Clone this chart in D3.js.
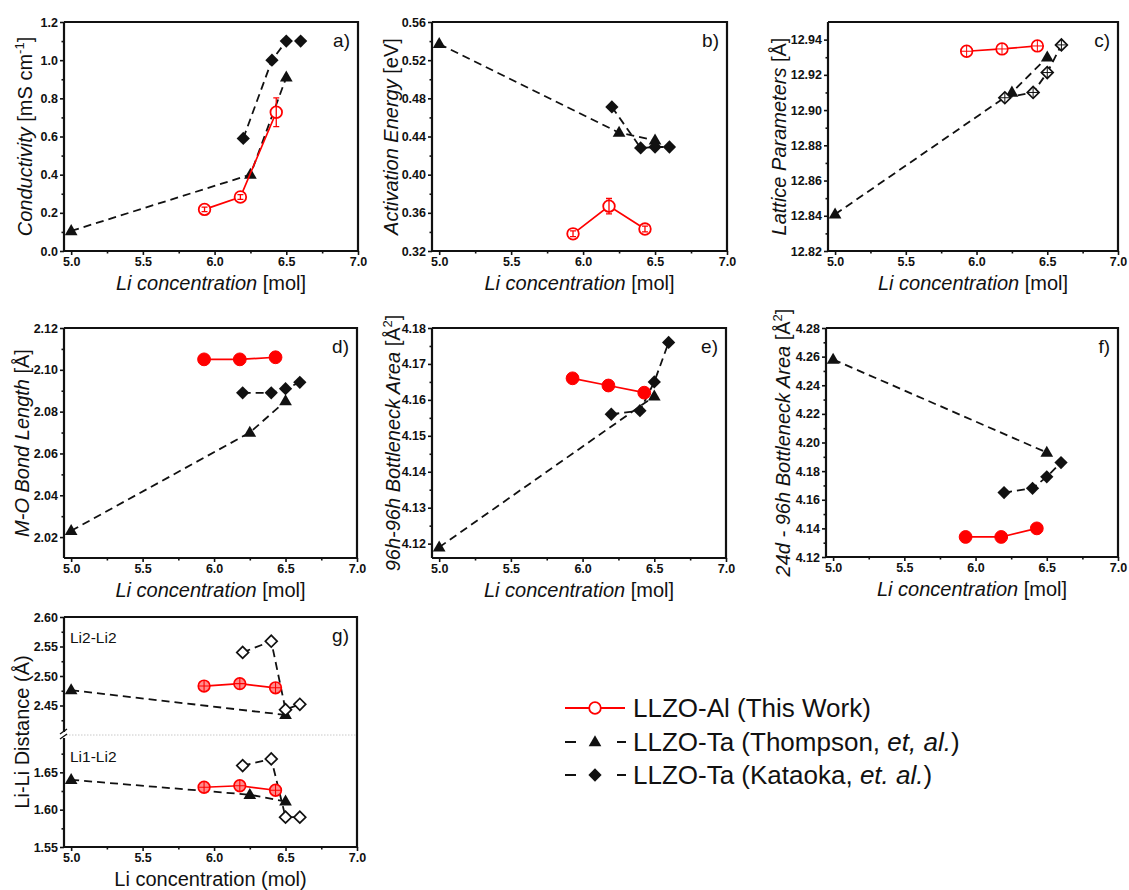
<!DOCTYPE html>
<html>
<head>
<meta charset="utf-8">
<script src="https://cdn.jsdelivr.net/npm/d3@7"></script>
<style>
  html, body { margin: 0; padding: 0; background: #fff; }
  svg { display: block; font-family: "Liberation Sans", Arial, sans-serif; }
</style>
</head>
<body>
<script>
// ---- Li content (mol per formula unit) for each sample set ----
const liAl = [5.93, 6.18, 6.43];            // LLZO-Al (this work)
const liThompson = [5.0, 6.25, 6.5];        // LLZO-Ta, Thompson et al.
const liThompsonEnds = [5.0, 6.5];          // Thompson points reported in e), f), g-upper
const liKataoka = [6.2, 6.4, 6.5, 6.6];     // LLZO-Ta, Kataoka et al.

// a) conductivity [mS cm-1]
const condAl = [0.218, 0.283, 0.727];
const condAlErr = [0.012, 0.012, 0.075];
const condThompson = [0.105, 0.40, 0.91];
const condKataoka = [0.59, 1.0, 1.1, 1.1];

// b) activation energy [eV]
const eaAl = [0.338, 0.367, 0.343];
const eaAlErr = [0.003, 0.008, 0.003];
const eaThompson = [0.537, 0.444, 0.436];
const eaKataoka = [0.471, 0.428, 0.429, 0.429];

// c) lattice parameter [Å]
const latAl = [12.9334, 12.9347, 12.9364];
const latThompson = [12.8408, 12.910, 12.930];
const latKataoka = [12.907, 12.910, 12.9213, 12.937];

// d) M-O bond length [Å]
const moAl = [2.105, 2.105, 2.106];
const moThompson = [2.023, 2.070, 2.085];
const moKataoka = [2.089, 2.089, 2.091, 2.094];

// e) 96h-96h bottleneck area [Å²]
const bn96Al = [4.166, 4.164, 4.162];
const bn96Thompson = [4.119, 4.161];
const bn96Kataoka = [4.156, 4.157, 4.165, 4.176];

// f) 24d-96h bottleneck area [Å²]
const bn24Al = [4.134, 4.134, 4.140];
const bn24Thompson = [4.258, 4.193];
const bn24Kataoka = [4.165, 4.168, 4.176, 4.186];

// g) Li-Li distances [Å]
const li22Al = [2.483, 2.487, 2.480];
const li22Thompson = [2.476, 2.434];
const li22Kataoka = [2.540, 2.559, 2.443, 2.452];
const li12Al = [1.630, 1.632, 1.626];
const li12Thompson = [1.640, 1.620, 1.611];
const li12Kataoka = [1.659, 1.668, 1.590, 1.590];

// axis ticks
const xTicks = [5.0, 5.5, 6.0, 6.5, 7.0];
const xMinor = [5.25, 5.75, 6.25, 6.75];

const legendLabels = [
  [{t: "LLZO-Al (This Work)"}],
  [{t: "LLZO-Ta (Thompson, "}, {t: "et, al.", i: true}, {t: ")"}],
  [{t: "LLZO-Ta (Kataoka, "}, {t: "et. al.", i: true}, {t: ")"}]
];

const RED = "#ff0000";
const INK = "#111";
const W = 1129, H = 890;

const svg = d3.select("body").append("svg").attr("width", W).attr("height", H);
svg.append("rect").attr("width", W).attr("height", H).attr("fill", "#fff");

const triSym = d3.symbol().type(d3.symbolTriangle).size(70);
const sqSym = d3.symbol().type(d3.symbolSquare).size(88);
const sqOpenSym = d3.symbol().type(d3.symbolSquare).size(70);

function marker(sel, kind, cx, cy) {
  const g = sel.append("g").attr("transform", `translate(${cx},${cy})`);
  const r = 5.8;
  switch (kind) {
    case "circleOpen":
      g.append("circle").attr("r", r).attr("fill", "#fff").attr("stroke", RED).attr("stroke-width", 1.8);
      break;
    case "circleOpenCross":
      g.append("circle").attr("r", r).attr("fill", "#fff").attr("stroke", RED).attr("stroke-width", 1.7);
      g.append("path").attr("d", `M${-r},0H${r}M0,${-r}V${r}`).attr("stroke", RED).attr("stroke-width", 1);
      break;
    case "circleFill":
      g.append("circle").attr("r", r + 0.6).attr("fill", RED).attr("stroke", RED).attr("stroke-width", 1);
      break;
    case "circleCrossFill":
      g.append("circle").attr("r", r).attr("fill", "#ff8c8c").attr("stroke", RED).attr("stroke-width", 1.7);
      g.append("path").attr("d", `M${-r},0H${r}M0,${-r}V${r}`).attr("stroke", RED).attr("stroke-width", 1.1);
      break;
    case "triangle":
      g.append("path").attr("d", triSym()).attr("transform", "translate(0,0.5)").attr("fill", INK);
      break;
    case "diamondFill":
      g.append("path").attr("d", sqSym()).attr("transform", "rotate(45)").attr("fill", INK);
      break;
    case "diamondOpen":
      g.append("path").attr("d", sqOpenSym()).attr("transform", "rotate(45)")
        .attr("fill", "#fff").attr("stroke", INK).attr("stroke-width", 1.7);
      break;
    case "diamondOpenCross":
      g.append("path").attr("d", sqOpenSym()).attr("transform", "rotate(45)")
        .attr("fill", "#fff").attr("stroke", INK).attr("stroke-width", 1.7);
      g.append("path").attr("d", "M-5.8,0H5.8M0,-5.8V5.8").attr("stroke", INK).attr("stroke-width", 1);
      break;
  }
}

function richText(sel, parts, size) {
  parts.forEach(p => {
    const ts = sel.append("tspan").text(p.t);
    if (p.i) ts.attr("font-style", "italic");
    if (p.sup) {
      ts.attr("font-size", size * 0.65).attr("dy", -size * 0.4);
    } else if (p.afterSup) {
      ts.attr("dy", size * 0.4);
    }
  });
}

function styleAxis(g, fmtShown) {
  g.select(".domain").remove();
  g.selectAll(".tick line").attr("stroke", INK).attr("stroke-width", 1.6);
  g.selectAll(".tick text").attr("fill", INK).attr("font-size", 12.5).attr("font-weight", "bold")
    .attr("font-family", "'Liberation Sans', Arial, sans-serif");
  if (!fmtShown) g.selectAll(".tick text").remove();
}

function drawPanel(cfg) {
  const {l, r, t, b} = cfg.box;
  const g = svg.append("g");
  const x = d3.scaleLinear().domain([4.95, 7.0]).range([l, r]);

  // x axis
  g.append("g").attr("transform", `translate(0,${b})`)
    .call(d3.axisBottom(x).tickValues(xTicks).tickSize(4).tickPadding(2).tickFormat(d3.format(".1f")))
    .call(s => styleAxis(s, true));
  g.append("g").attr("transform", `translate(0,${b})`)
    .call(d3.axisBottom(x).tickValues(xMinor).tickSize(2.5).tickFormat(""))
    .call(s => styleAxis(s, false));

  // y axes (one or more stacked segments)
  cfg.segments.forEach(seg => {
    const y = d3.scaleLinear().domain(seg.domain).range(seg.range);
    seg.y = y;
    g.append("g").attr("transform", `translate(${l},0)`)
      .call(d3.axisLeft(y).tickValues(seg.ticks).tickSize(4).tickPadding(2).tickFormat(d3.format(seg.fmt)))
      .call(s => styleAxis(s, true));
    g.append("g").attr("transform", `translate(${l},0)`)
      .call(d3.axisLeft(y).tickValues(seg.minor).tickSize(2.5).tickFormat(""))
      .call(s => styleAxis(s, false));
  });

  // frame
  const frame = g.append("g").attr("fill", "none").attr("stroke", INK).attr("stroke-width", 2.2);
  frame.append("path").attr("d", `M${l},${b}H${r}V${t}H${l}`);
  if (cfg.breakY) {
    const by = cfg.breakY;
    frame.append("path").attr("d", `M${l},${t}V${by - 3}M${l},${by + 3}V${b}`);
    g.append("line").attr("x1", l + 2).attr("x2", r - 1).attr("y1", by).attr("y2", by)
      .attr("stroke", "#c8c8c8").attr("stroke-width", 1).attr("stroke-dasharray", "1.5,1.5");
    g.append("path").attr("d", `M${l - 4},${by - 1}L${l + 3},${by - 6}M${l - 4},${by + 4}L${l + 3},${by - 1}`)
      .attr("stroke", INK).attr("stroke-width", 1.4).attr("fill", "none");
  } else {
    frame.append("path").attr("d", `M${l},${t}V${b}`);
  }

  // series
  cfg.series.forEach(s => {
    const y = cfg.segments[s.seg || 0].y;
    const pts = s.x.map((xv, i) => [x(xv), y(s.y[i])]);
    const line = d3.line();
    g.append("path").attr("d", line(pts)).attr("fill", "none")
      .attr("stroke", s.color).attr("stroke-width", s.dash ? 1.8 : 1.7)
      .attr("stroke-dasharray", s.dash ? "8,5" : null);
    pts.forEach(p => marker(g, s.marker, p[0], p[1]));
    if (s.err) {
      s.x.forEach((xv, i) => {
        const cx = x(xv), y1 = y(s.y[i] - s.err[i]), y2 = y(s.y[i] + s.err[i]);
        g.append("path").attr("d", `M${cx},${y1}V${y2}M${cx - 3},${y1}H${cx + 3}M${cx - 3},${y2}H${cx + 3}`)
          .attr("stroke", s.color).attr("stroke-width", 1.3).attr("fill", "none");
      });
    }
  });

  // panel tag
  g.append("text").attr("x", r - 8).attr("y", t + 25).attr("text-anchor", "end")
    .attr("font-size", 19).attr("fill", INK).text(cfg.tag);

  // axis titles
  const xt = g.append("text").attr("x", (l + r) / 2).attr("y", b + 39).attr("text-anchor", "middle")
    .attr("font-size", 20).attr("fill", INK);
  richText(xt, cfg.xTitle, 20);
  const cy = (t + b) / 2;
  const yt = g.append("text").attr("transform", `translate(${cfg.yTitleX},${cy}) rotate(-90)`)
    .attr("text-anchor", "middle").attr("dy", "0.35em").attr("font-size", 20).attr("fill", INK);
  richText(yt, cfg.yTitle, 20);

  return {g, x};
}

const xTitleStd = [{t: "Li concentration", i: true}, {t: " [mol]"}];

function trio(alY, alMarker, thY, kaY, kaMarker, opts = {}) {
  return [
    {x: opts.thX || liThompson, y: thY, color: INK, dash: true, marker: "triangle", seg: opts.seg},
    {x: liKataoka, y: kaY, color: INK, dash: true, marker: kaMarker, seg: opts.seg},
    {x: liAl, y: alY, color: RED, marker: alMarker, err: opts.err, seg: opts.seg}
  ];
}

// a) conductivity
drawPanel({
  box: {l: 64, r: 358, t: 22, b: 251}, tag: "a)", yTitleX: 25,
  xTitle: xTitleStd,
  yTitle: [{t: "Conductivity", i: true}, {t: " [mS cm"}, {t: "-1", sup: true}, {t: "]", afterSup: true}],
  segments: [{domain: [0, 1.2], range: [251, 22], ticks: d3.range(0, 1.21, 0.2), minor: d3.range(0.1, 1.2, 0.2), fmt: ".1f"}],
  series: trio(condAl, "circleOpen", condThompson, condKataoka, "diamondFill", {err: condAlErr})
});

// b) activation energy
drawPanel({
  box: {l: 432, r: 727, t: 22, b: 251}, tag: "b)", yTitleX: 391,
  xTitle: xTitleStd,
  yTitle: [{t: "Activation Energy", i: true}, {t: " [eV]"}],
  segments: [{domain: [0.32, 0.56], range: [251, 22], ticks: [0.32, 0.36, 0.40, 0.44, 0.48, 0.52, 0.56],
    minor: [0.34, 0.38, 0.42, 0.46, 0.50, 0.54], fmt: ".2f"}],
  series: trio(eaAl, "circleOpen", eaThompson, eaKataoka, "diamondFill", {err: eaAlErr})
});

// c) lattice parameter
drawPanel({
  box: {l: 828, r: 1118, t: 22, b: 251}, tag: "c)", yTitleX: 779,
  xTitle: xTitleStd,
  yTitle: [{t: "Lattice Parameters", i: true}, {t: " [Å]"}],
  segments: [{domain: [12.82, 12.95], range: [251, 22], ticks: [12.82, 12.84, 12.86, 12.88, 12.90, 12.92, 12.94],
    minor: [12.83, 12.85, 12.87, 12.89, 12.91, 12.93], fmt: ".2f"}],
  series: trio(latAl, "circleOpenCross", latThompson, latKataoka, "diamondOpenCross")
});

// d) M-O bond length
drawPanel({
  box: {l: 64, r: 357, t: 328, b: 558}, tag: "d)", yTitleX: 22,
  xTitle: xTitleStd,
  yTitle: [{t: "M-O Bond Length", i: true}, {t: " [Å]"}],
  segments: [{domain: [2.01, 2.12], range: [558, 328], ticks: [2.02, 2.04, 2.06, 2.08, 2.10, 2.12],
    minor: [2.03, 2.05, 2.07, 2.09, 2.11], fmt: ".2f"}],
  series: trio(moAl, "circleFill", moThompson, moKataoka, "diamondFill")
});

// e) 96h-96h bottleneck
drawPanel({
  box: {l: 432, r: 726, t: 328, b: 558}, tag: "e)", yTitleX: 393,
  xTitle: xTitleStd,
  yTitle: [{t: "96h-96h Bottleneck Area", i: true}, {t: " [Å"}, {t: "2", sup: true}, {t: "]", afterSup: true}],
  segments: [{domain: [4.116, 4.18], range: [558, 328], ticks: [4.12, 4.13, 4.14, 4.15, 4.16, 4.17, 4.18],
    minor: [4.125, 4.135, 4.145, 4.155, 4.165, 4.175], fmt: ".2f"}],
  series: trio(bn96Al, "circleFill", bn96Thompson, bn96Kataoka, "diamondFill", {thX: liThompsonEnds})
});

// f) 24d-96h bottleneck
drawPanel({
  box: {l: 826, r: 1118, t: 328, b: 557}, tag: "f)", yTitleX: 783,
  xTitle: xTitleStd,
  yTitle: [{t: "24d - 96h Bottleneck Area", i: true}, {t: " [Å"}, {t: "2", sup: true}, {t: "]", afterSup: true}],
  segments: [{domain: [4.12, 4.28], range: [557, 328], ticks: [4.12, 4.14, 4.16, 4.18, 4.20, 4.22, 4.24, 4.26, 4.28],
    minor: [4.13, 4.15, 4.17, 4.19, 4.21, 4.23, 4.25, 4.27], fmt: ".2f"}],
  series: trio(bn24Al, "circleFill", bn24Thompson, bn24Kataoka, "diamondFill", {thX: liThompsonEnds})
});

// g) Li-Li distances, broken y axis
const pg = drawPanel({
  box: {l: 64, r: 357, t: 617, b: 847}, tag: "g)", yTitleX: 22, breakY: 735,
  xTitle: [{t: "Li concentration (mol)"}],
  yTitle: [{t: "Li-Li Distance (Å)"}],
  segments: [
    {domain: [2.40, 2.60], range: [735, 617], ticks: [2.45, 2.50, 2.55, 2.60], minor: [2.425, 2.475, 2.525, 2.575], fmt: ".2f"},
    {domain: [1.55, 1.70], range: [847, 735], ticks: [1.55, 1.60, 1.65], minor: [1.575, 1.625, 1.675], fmt: ".2f"}
  ],
  series: [
    ...trio(li22Al, "circleCrossFill", li22Thompson, li22Kataoka, "diamondOpen", {thX: liThompsonEnds, seg: 0}),
    ...trio(li12Al, "circleCrossFill", li12Thompson, li12Kataoka, "diamondOpen", {seg: 1})
  ]
});
pg.g.append("text").attr("x", 70).attr("y", 643).attr("font-size", 15.5).attr("fill", INK).text("Li2-Li2");
pg.g.append("text").attr("x", 70).attr("y", 762).attr("font-size", 15.5).attr("fill", INK).text("Li1-Li2");

// legend
const leg = svg.append("g");
const legRows = [708, 742, 775];
const legMarkers = ["circleOpen", "triangle", "diamondFill"];
legRows.forEach((yy, i) => {
  if (i === 0) {
    leg.append("line").attr("x1", 565).attr("x2", 625).attr("y1", yy).attr("y2", yy)
      .attr("stroke", RED).attr("stroke-width", 1.8);
  } else {
    leg.append("path").attr("d", `M565,${yy}H576M617,${yy}H626`).attr("stroke", INK).attr("stroke-width", 2);
  }
  marker(leg, legMarkers[i], 595, yy);
  const tx = leg.append("text").attr("x", 633).attr("y", yy + 9).attr("font-size", 26).attr("fill", INK);
  richText(tx, legendLabels[i], 26);
});
</script>
</body>
</html>
